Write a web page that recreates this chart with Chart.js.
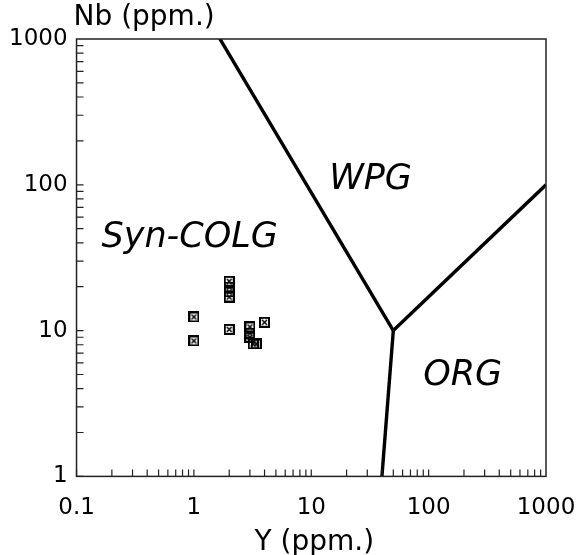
<!DOCTYPE html>
<html lang="en">
<head>
  <meta charset="UTF-8">
  <title>Nb - Y</title>
  <script src="https://cdn.jsdelivr.net/npm/chart.js"></script>
  <style>
    body {
      margin: 0;
      background: #fff;
    }
  </style>
</head>
<body>
  <canvas id="grafico" width="581" height="555"></canvas>

  <script>
    // amostras (Y ppm, Nb ppm)
    const amostraY  = [1, 1, 2, 2, 2, 2, 2, 3, 3, 3, 3.2, 3.4, 4];
    const amostraNb = [12.4, 8.5, 21.8, 19.9, 18.4, 17, 10.2, 10.6, 9.6, 9.0, 8.1, 8.1, 11.4];

    // limites dos campos (Pearce et al.)
    const limiteColY  = [1, 50];
    const limiteColNb = [2000, 10];
    const limiteOrgY  = [50, 1000];
    const limiteOrgNb = [10, 100];
    const limiteVagY  = [50, 40];
    const limiteVagNb = [10, 1];

    const ticksY  = [0.1, 1, 10, 100, 1000];
    const ticksNb = [1, 10, 100, 1000];

    const campos = ['WPG', 'Syn-COLG', 'ORG'];
    const camposY  = [32, 0.92, 195];
    const camposNb = [108, 43, 4.9];

    const fonte = "'DejaVu Sans', sans-serif";

    function pares(xs, ys) {
      return xs.map((x, i) => ({ x: x, y: ys[i] }));
    }

    // marcador: quadrado com X dentro
    const marcador = document.createElement('canvas');
    marcador.width = 11;
    marcador.height = 11;
    (function () {
      const c = marcador.getContext('2d');
      c.strokeStyle = '#000';
      c.lineWidth = 2;
      c.strokeRect(1, 1, 9, 9);
      c.lineWidth = 1.5;
      c.beginPath();
      c.moveTo(3, 3); c.lineTo(8, 8);
      c.moveTo(8, 3); c.lineTo(3, 8);
      c.stroke();
    })();

    function linha(xs, ys) {
      return {
        type: 'line',
        data: pares(xs, ys),
        borderColor: '#000',
        borderWidth: 3.4,
        pointRadius: 0,
        showLine: true,
        fill: false
      };
    }

    const moldura = {
      id: 'moldura',
      afterDraw(chart) {
        const ctx = chart.ctx;
        const a = chart.chartArea;
        const sx = chart.scales.x, sy = chart.scales.y;
        ctx.save();
        ctx.strokeStyle = '#222';
        ctx.lineWidth = 1.5;
        ctx.strokeRect(a.left, a.top, a.right - a.left, a.bottom - a.top);

        // tracinhos para dentro
        ctx.lineWidth = 1.2;
        ctx.beginPath();
        for (let d = 0.1; d < 1000; d *= 10) {
          for (let k = 1; k <= 9; k++) {
            const px = sx.getPixelForValue(d * k);
            ctx.moveTo(px, a.bottom);
            ctx.lineTo(px, a.bottom - 7);
          }
        }
        for (let d = 1; d < 1000; d *= 10) {
          for (let k = 1; k <= 9; k++) {
            const py = sy.getPixelForValue(d * k);
            ctx.moveTo(a.left, py);
            ctx.lineTo(a.left + 7, py);
          }
        }
        ctx.stroke();

        // titulos dos eixos
        ctx.fillStyle = '#000';
        ctx.font = '28px ' + fonte;
        ctx.textAlign = 'left';
        ctx.textBaseline = 'middle';
        ctx.fillText('Nb (ppm.)', a.left - 3, 18);
        ctx.textAlign = 'center';
        ctx.fillText('Y (ppm.)', (a.left + a.right) / 2 + 3, 543);

        // nomes dos campos
        ctx.font = 'italic 35px ' + fonte;
        campos.forEach((nome, i) => {
          ctx.fillText(nome, sx.getPixelForValue(camposY[i]), sy.getPixelForValue(camposNb[i]));
        });
        ctx.restore();
      }
    };

    new Chart(document.getElementById('grafico'), {
      type: 'scatter',
      data: {
        datasets: [
          {
            data: pares(amostraY, amostraNb),
            pointStyle: marcador,
            pointRadius: 5
          },
          linha(limiteColY, limiteColNb),
          linha(limiteOrgY, limiteOrgNb),
          linha(limiteVagY, limiteVagNb)
        ]
      },
      options: {
        responsive: false,
        animation: false,
        layout: { padding: { top: 39, right: 35, left: 0, bottom: 15 } },
        plugins: {
          legend: { display: false },
          tooltip: { enabled: false }
        },
        scales: {
          x: {
            type: 'logarithmic',
            min: 0.1,
            max: 1000,
            afterBuildTicks: s => { s.ticks = ticksY.map(v => ({ value: v })); },
            afterFit: s => { s.paddingRight = 0; },
            grid: { display: false, drawTicks: false },
            border: { display: false },
            ticks: {
              color: '#000',
              font: { family: fonte, size: 23 },
              padding: 18,
              maxRotation: 0,
              callback: v => String(v)
            }
          },
          y: {
            type: 'logarithmic',
            min: 1,
            max: 1000,
            afterBuildTicks: s => { s.ticks = ticksNb.map(v => ({ value: v })); },
            grid: { display: false, drawTicks: false },
            border: { display: false },
            ticks: {
              color: '#000',
              font: { family: fonte, size: 23 },
              padding: 9,
              callback: v => String(v)
            }
          }
        }
      },
      plugins: [moldura]
    });
  </script>
</body>
</html>
